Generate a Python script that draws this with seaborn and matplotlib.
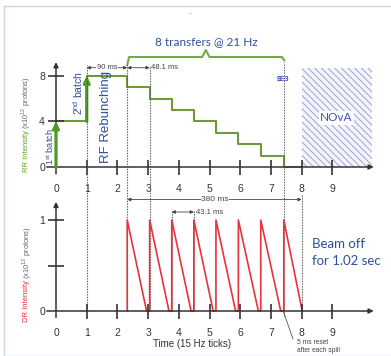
import matplotlib
matplotlib.use("Agg")
import matplotlib.pyplot as plt
import seaborn as sns
import pandas as pd
from matplotlib.patches import Rectangle

# ---------------- data ----------------
tick_pos = [0, 1, 2, 3, 4, 5, 6, 7, 8, 9]
tick_labels = ["0", "1", "2", "3", "4", "5", "6", "7", "8", "9"]
rr_yticks = [0, 4, 8]
rr_ytick_labels = ["0", "4", "8"]
dr_yticks = [0, 0.5, 1]
dr_ytick_labels = ["0", "", "1"]

batch_times = [0, 1]
batch_from = [0, 4]
batch_to = [4, 8]

transfer_times = [2.32, 3.05, 3.77, 4.49, 5.21, 5.94, 6.67, 7.42]
rr_step_times = [0, 1] + transfer_times + [8.0]
rr_step_levels = [4, 8, 7, 6, 5, 4, 3, 2, 1, 0, 0]

spill_start = transfer_times
spill_end = [2.95, 3.68, 4.40, 5.12, 5.85, 6.59, 7.32, 8.02]
spill_peak = [1, 1, 1, 1, 1, 1, 1, 1]

nova_start, nova_end, nova_top = 8.0, 10.28, 8.65

# ---------------- style ----------------
sns.set_theme(style="white")
plt.rcParams["font.family"] = ["Liberation Sans", "DejaVu Sans"]

GREEN_STEP = "#6f9a3c"
GREEN_ARW = "#4e9a25"
GREEN_BR = "#72a84a"
RED = "#e8323c"
BLUE = "#2f4f9e"
AXC = "#333333"
DOT = "#555555"

W, H = 391, 356
fig = plt.figure(figsize=(W / 100, H / 100), dpi=100)

def px(x, y):
    return (x / W, 1 - y / H)

X0PX, XSC = 56.0, 30.7
TOP_SC, BOT_SC = 11.4, 91.0
xlim = ((40 - X0PX) / XSC, (380 - X0PX) / XSC)

# top axes: pixel 30..180, y0 at 167
ax_t = fig.add_axes([40 / W, (H - 180) / H, 340 / W, 150 / H])
# bottom axes: pixel 195..320, y0 at 311
ax_b = fig.add_axes([40 / W, (H - 320) / H, 340 / W, 125 / H])

# ---------------- RR intensity (seaborn) ----------------
rr_df = pd.DataFrame({"t": rr_step_times, "rr": rr_step_levels})
sns.lineplot(data=rr_df, x="t", y="rr", drawstyle="steps-post",
             color=GREEN_STEP, lw=1.5, ax=ax_t, estimator=None, sort=False,
             zorder=2)

# ---------------- DR intensity (seaborn) ----------------
saw_t, saw_y = [], []
for s0, e0, p0 in zip(spill_start, spill_end, spill_peak):
    saw_t += [s0, s0, e0]
    saw_y += [0, p0, 0]
dr_df = pd.DataFrame({"t": saw_t, "dr": saw_y})
sns.lineplot(data=dr_df, x="t", y="dr", color=RED, lw=1.2, ax=ax_b,
             estimator=None, sort=False, zorder=2)

ax_t.set_xlim(*xlim)
ax_t.set_ylim(-(180 - 167) / TOP_SC, (167 - 30) / TOP_SC)
ax_b.set_xlim(*xlim)
ax_b.set_ylim(-(320 - 311) / BOT_SC, (311 - 195) / BOT_SC)

for ax, yt, ytl in ((ax_t, rr_yticks, rr_ytick_labels),
                    (ax_b, dr_yticks, dr_ytick_labels)):
    ax.patch.set_alpha(0)
    for sp in ax.spines.values():
        sp.set_visible(False)
    ax.spines["bottom"].set_position(("data", 0))
    ax.spines["left"].set_position(("data", 0))
    ax.set_xticks(tick_pos)
    ax.set_xticklabels(tick_labels)
    ax.set_yticks(yt)
    ax.set_yticklabels(ytl)
    ax.set_xlabel("")
    ax.set_ylabel("")
    ax.grid(False)
    ax.tick_params(axis="x", length=0, labelsize=7.5, labelcolor="#333333",
                   pad=12.0)
    ax.tick_params(axis="y", length=0, labelsize=7.5, labelcolor="#333333",
                   pad=8.0)

# crossing tick marks, drawn as short segments in each axes
def tick_marks(ax, ysc, yt):
    hx = 7.5 / ysc
    for xv in tick_pos[1:]:
        ax.plot([xv, xv], [-hx, hx], color=AXC, lw=1.2, clip_on=False,
                solid_capstyle="butt", zorder=3)
    hy = 8.0 / XSC
    for yv in yt[1:]:
        ax.plot([-hy, hy], [yv, yv], color=AXC, lw=1.2, clip_on=False,
                solid_capstyle="butt", zorder=3)

tick_marks(ax_t, TOP_SC, rr_yticks)
tick_marks(ax_b, BOT_SC, dr_yticks)

# axis arrows
arr_ax = dict(arrowstyle="-|>", color=AXC, lw=1.1, mutation_scale=7,
              shrinkA=0, shrinkB=0)
ax_t.annotate("", xy=(10.35, 0), xytext=(-0.3, 0), arrowprops=arr_ax)
ax_t.annotate("", xy=(0, 9.2), xytext=(0, -0.6), arrowprops=arr_ax)
ax_b.annotate("", xy=(10.35, 0), xytext=(-0.3, 0), arrowprops=arr_ax)
ax_b.annotate("", xy=(0, 1.2), xytext=(0, -0.07), arrowprops=arr_ax)

# green batch arrows
for bt, b0, b1 in zip(batch_times, batch_from, batch_to):
    ax_t.annotate("", xy=(bt, b1), xytext=(bt, b0),
                  arrowprops=dict(arrowstyle="-|>", color=GREEN_ARW, lw=2.3,
                                  mutation_scale=9, shrinkA=0, shrinkB=0),
                  zorder=4)

# ---------------- NOvA box ----------------
plt.rcParams["hatch.linewidth"] = 0.6
ax_t.add_patch(Rectangle((nova_start, 0), nova_end - nova_start, nova_top,
                         facecolor="#f4f4fb", edgecolor="#9397da", lw=0,
                         hatch="\\\\\\\\\\", zorder=0.5))
ax_t.text((nova_start + nova_end) / 2, 4.3, "NOvA", color="#3a4fb5",
          fontsize=8.5, ha="center", va="center", family=["Lato", "DejaVu Sans"],
          bbox=dict(facecolor="white", edgecolor="none", pad=1.0), zorder=3)

# ---------------- dotted guide lines ----------------
def vdot(x, y_top_px, y_bot_px=311):
    ax_b.plot([x, x], [(311 - y_bot_px) / BOT_SC, (311 - y_top_px) / BOT_SC],
              ls=(0, (1.2, 1.2)), lw=0.8, color=DOT, clip_on=False, zorder=1)

vdot(1, 65)
vdot(transfer_times[0], 64)
vdot(transfer_times[1], 66)
vdot(transfer_times[-1], 62, 316)
vdot(8.0, 195)
vdot(transfer_times[2], 210)
vdot(transfer_times[3], 210)

# ---------------- annotations ----------------
small = dict(fontsize=5.5, color="#444444")
dim_arr = dict(arrowstyle="<|-|>", color="#444444", lw=0.6, mutation_scale=5,
               shrinkA=0, shrinkB=0)
y90 = (167 - 67.7) / TOP_SC
ax_t.annotate("", xy=(1, y90), xytext=(transfer_times[0], y90), arrowprops=dim_arr)
ax_t.text((1 + transfer_times[0]) / 2, y90, "90 ms", ha="center", va="center",
          bbox=dict(facecolor="white", edgecolor="none", pad=0.3), **small)
ax_t.annotate("", xy=(transfer_times[0], y90), xytext=(transfer_times[1], y90),
              arrowprops=dim_arr)
ax_t.text(transfer_times[1] + 0.05, y90, "48.1 ms", ha="left", va="center", **small)

y380 = (311 - 199.5) / BOT_SC
ax_b.annotate("", xy=(transfer_times[0], y380), xytext=(8.0, y380), arrowprops=dim_arr)
ax_b.text(5.18, y380, "380 ms", ha="center", va="center",
          bbox=dict(facecolor="white", edgecolor="none", pad=0.5), fontsize=6,
          color="#444444")
y43 = (311 - 212) / BOT_SC
ax_b.annotate("", xy=(transfer_times[2], y43), xytext=(transfer_times[3], y43),
              arrowprops=dim_arr)
ax_b.text(transfer_times[3] + 0.06, y43, "43.1 ms", ha="left", va="center", **small)

# 8 transfers bracket
yb = (167 - 57) / TOP_SC
yb_end = (167 - 65) / TOP_SC
yb_mid = (167 - 50) / TOP_SC
xm = 4.88
ax_t.plot([transfer_times[0], transfer_times[0] + 0.06, xm - 0.12, xm, xm + 0.12,
           transfer_times[-1] - 0.06, transfer_times[-1] + 0.02],
          [yb_end, yb, yb, yb_mid, yb, yb, yb_end + 0.4], color=GREEN_BR, lw=1.5,
          clip_on=False, solid_joinstyle="round")
fig.text(*px(206, 42), "8 transfers @ 21 Hz", color=BLUE, fontsize=8.5,
         ha="center", va="center", family=["Lato", "DejaVu Sans"])
fig.text(*px(283, 80), r"\$E3", color="#3a4fc0", fontsize=5, ha="center",
         va="center", weight="bold")

# rotated labels
rot = dict(rotation=90, rotation_mode="anchor", ha="left", va="center")
fig.text(*px(50, 165), r"1$^{\mathregular{st}}$ batch", color=BLUE, fontsize=6.6, **rot)
fig.text(*px(78, 115), r"2$^{\mathregular{nd}}$ batch", color=BLUE, fontsize=7.5, **rot)
fig.text(*px(106, 163), "RF Rebunching", color=BLUE, fontsize=9.5, **rot)

def two_color_label(x, y, first, second, c1):
    t1 = fig.text(*px(x, y), first, color=c1, fontsize=5.5, **rot)
    fig.canvas.draw()
    bb = t1.get_window_extent()
    fig.text(x / W, bb.y1 / H + 0.004, second, color="#666666", fontsize=5.5, **rot)

two_color_label(26, 172, "RR Intensity", r"(x10$^{\mathregular{12}}$ protons)", "#5aa52d")
two_color_label(27, 322, "DR Intensity", r"(x10$^{\mathregular{12}}$ protons)", RED)

# beam off
fig.text(*px(312, 244), "Beam off", color=BLUE, fontsize=9.5, ha="left",
         va="center", family=["Lato", "DejaVu Sans"])
fig.text(*px(312, 261), "for 1.02 sec", color=BLUE, fontsize=9.5, ha="left",
         va="center", family=["Lato", "DejaVu Sans"])

# time label
fig.text(*px(192, 344), "Time (15 Hz ticks)", color="#333333", fontsize=7,
         ha="center", va="center")

# reset leader
ax_b.plot([transfer_times[-1] - 0.02, (293 - X0PX) / XSC], [0, (311 - 339) / BOT_SC],
          color="#555555", lw=0.6, clip_on=False)
fig.text(*px(297, 342), "5 ms reset", fontsize=4.8, color="#444444",
         ha="left", va="center")
fig.text(*px(297, 351), "after each spill", fontsize=4.8, color="#444444",
         ha="left", va="center")

# small chevron and frame
fig.text(*px(190, 17), "ˇ", fontsize=6, color="#999999", ha="center", va="center")
fig.patches.append(Rectangle((4 / W, 0), 1.0, 1 - 6 / H, transform=fig.transFigure,
                             fill=False, edgecolor="#c8d6ee", lw=1.0, figure=fig))

fig.savefig("out.png", dpi=100)
